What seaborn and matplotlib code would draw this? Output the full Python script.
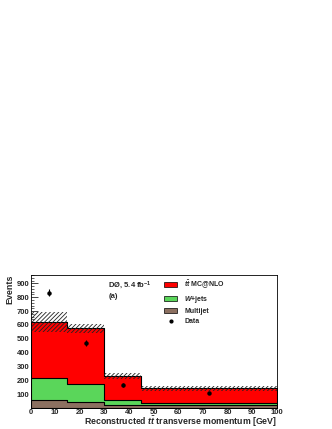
import numpy as np
import pandas as pd
import matplotlib
matplotlib.use("Agg")
import matplotlib.pyplot as plt
import seaborn as sns
from matplotlib.patches import Patch
from matplotlib.lines import Line2D
from matplotlib.ticker import MultipleLocator

# values
bin_edges = [0, 15, 30, 45, 100]
multijet = [57, 43, 22, 22]
wjets = [162, 133, 38, 18]
ttbar = [401, 399, 173, 103]
syst_unc = [70, 32, 21, 16]
data_x = [7.5, 22.5, 37.5, 72.5]
data_y = [833, 470, 166, 112]
data_err = [25, 22, 13, 8]

sns.set_style("white")
plt.rcParams["font.family"] = ["Liberation Sans", "DejaVu Sans"]
plt.rcParams["font.weight"] = "bold"
plt.rcParams["mathtext.fontset"] = "custom"
plt.rcParams["mathtext.it"] = "Liberation Sans:italic:bold"
plt.rcParams["mathtext.rm"] = "Liberation Sans:bold"
plt.rcParams["hatch.linewidth"] = 0.6

edges = np.array(bin_edges, dtype=float)
centers = (edges[:-1] + edges[1:]) / 2
widths = np.diff(edges)
mj = np.array(multijet, dtype=float)
wj = mj + np.array(wjets)
tot = wj + np.array(ttbar)
unc = np.array(syst_unc, dtype=float)

df = pd.DataFrame({"x": centers, "mj": mj, "wj": wj, "tot": tot})

fig = plt.figure(figsize=(3.32, 4.29), dpi=100)
ax = fig.add_axes([0.092, 0.05, 0.742, 0.309])

sns.histplot(data=df, x="x", weights="tot", bins=bin_edges, element="step",
             fill=True, color="#ff0000", alpha=1, edgecolor="black", linewidth=0.8, ax=ax)
sns.histplot(data=df, x="x", weights="wj", bins=bin_edges, element="step",
             fill=True, color="#5ad65a", alpha=1, edgecolor="black", linewidth=0.8, ax=ax)
sns.histplot(data=df, x="x", weights="mj", bins=bin_edges, element="step",
             fill=True, color="#8c7060", alpha=1, edgecolor="black", linewidth=0.8, ax=ax)

ax.bar(edges[:-1], 2 * unc, bottom=tot - unc, width=widths, align="edge",
       fill=False, hatch="////////", linewidth=0, edgecolor="#222222")

ax.errorbar(data_x, data_y, yerr=data_err, fmt="o", color="black",
            markersize=2.2, elinewidth=0.8, capsize=0)

ax.set_xlim(0, 100)
ax.set_ylim(5, 960)
ax.xaxis.set_major_locator(MultipleLocator(10))
ax.xaxis.set_minor_locator(MultipleLocator(2))
ax.yaxis.set_minor_locator(MultipleLocator(20))
ax.set_yticks([100, 200, 300, 400, 500, 600, 700, 800, 900])
ax.tick_params(which="both", direction="in", top=False, right=False, labelsize=5.5, pad=1.0)
ax.tick_params(which="major", length=5, width=0.6, left=True, bottom=True)
ax.tick_params(which="minor", length=2.5, width=0.5, left=True, bottom=True)
for s in ax.spines.values():
    s.set_linewidth(0.6)
    s.set_color("black")

ax.set_xlabel(r"Reconstructed $t\bar{t}$ transverse momentum [GeV]", fontsize=6.3,
              fontweight="bold", ha="right", va="top")
ax.xaxis.set_label_coords(1.0, -0.052)
ax.set_ylabel("Events", fontsize=6.4, fontweight="bold", loc="top", labelpad=1.5)

ax.text(0.315, 0.965, r"DØ, 5.4 fb$^{-1}$", transform=ax.transAxes, fontsize=5.5, va="top")
ax.text(0.315, 0.865, "(a)", transform=ax.transAxes, fontsize=5.5, va="top")

handles = [Patch(facecolor="#ff0000", edgecolor="black", linewidth=0.5),
           Patch(facecolor="#5ad65a", edgecolor="black", linewidth=0.5),
           Patch(facecolor="#8c7060", edgecolor="black", linewidth=0.5),
           Line2D([], [], marker="o", color="black", linestyle="none", markersize=2)]
labels = [r"$t\bar{t}$ MC@NLO", r"$W$+jets", "Multijet", "Data"]
ax.legend(handles, labels, loc="upper left", bbox_to_anchor=(0.54, 0.975), frameon=False,
          prop={"size": 5.0, "weight": "bold"}, handlelength=2.0, handleheight=0.8,
          handletextpad=1.0, labelspacing=0.45, borderaxespad=0, borderpad=0)

fig.savefig("out.png", dpi=100)
